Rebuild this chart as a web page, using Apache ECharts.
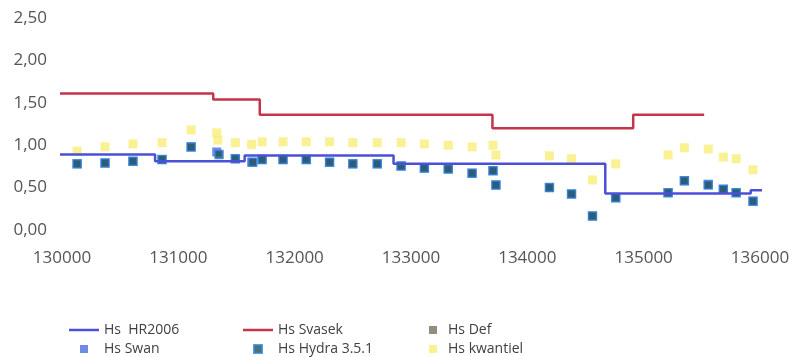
<!DOCTYPE html>
<html><head><meta charset="utf-8">
<script src="https://cdn.jsdelivr.net/npm/echarts@6/dist/echarts.min.js"></script>
<style>html,body{margin:0;padding:0;background:#fff}#c{width:798px;height:357px}</style>
</head><body><div id="c"></div>
<script>
// HR2006 step line (corner points)
const hrX = [129940, 130800, 130800, 131570, 131570, 132850, 132850, 134670, 134670, 135920, 135920, 136050];
const hrY = [0.89, 0.89, 0.81, 0.81, 0.88, 0.88, 0.78, 0.78, 0.43, 0.43, 0.47, 0.47];
// Svasek step line
const svX = [129940, 131300, 131300, 131700, 131700, 133700, 133700, 134910, 134910, 135520];
const svY = [1.61, 1.61, 1.54, 1.54, 1.36, 1.36, 1.20, 1.20, 1.36, 1.36];
// Hydra 3.5.1 points
const hyX = [130130, 130370, 130610, 130860, 131110, 131350, 131490, 131640, 131720, 131900, 132100, 132300, 132500, 132710, 132915, 133115, 133320, 133525, 133705, 133730, 134190, 134380, 134560, 134760, 135210, 135350, 135555, 135685, 135795, 135940];
const hyY = [0.78, 0.79, 0.81, 0.83, 0.98, 0.89, 0.84, 0.80, 0.83, 0.83, 0.83, 0.80, 0.78, 0.78, 0.755, 0.73, 0.72, 0.67, 0.70, 0.53, 0.50, 0.425, 0.165, 0.38, 0.44, 0.58, 0.53, 0.48, 0.44, 0.34];
// Swan points (mostly hidden beneath Hydra)
const swX = [130130, 130370, 130610, 130860, 131110, 131330, 131490, 131630, 131720, 131900, 132100, 132300, 132500, 132710, 132915, 133115, 133320, 133525, 133705, 133730, 134190, 134380, 134560, 134760, 135210, 135350, 135555, 135685, 135795, 135940];
const swY = [0.78, 0.79, 0.81, 0.83, 0.98, 0.92, 0.84, 0.80, 0.83, 0.83, 0.83, 0.80, 0.78, 0.78, 0.755, 0.73, 0.72, 0.67, 0.70, 0.53, 0.50, 0.425, 0.165, 0.38, 0.44, 0.58, 0.54, 0.48, 0.44, 0.34];
// Def points (not visible)
const defX = [];
const defY = [];
// kwantiel points
const kwX = [130130, 130370, 130610, 130860, 131110, 131330, 131340, 131490, 131630, 131720, 131900, 132100, 132300, 132500, 132710, 132915, 133115, 133320, 133525, 133705, 133730, 134190, 134380, 134560, 134760, 135210, 135350, 135555, 135685, 135795, 135940];
const kwY = [0.93, 0.98, 1.015, 1.03, 1.18, 1.145, 1.06, 1.03, 1.01, 1.04, 1.04, 1.04, 1.04, 1.03, 1.03, 1.03, 1.015, 1.0, 0.98, 1.0, 0.885, 0.875, 0.84, 0.59, 0.78, 0.885, 0.97, 0.955, 0.86, 0.84, 0.71];
const yTicks = ['0,00','0,50','1,00','1,50','2,00','2,50'];

const zip = (a, b) => a.map((v, i) => [v, b[i]]);
const LINE_ICON = 'path://M0,0h30v2.5h-30z';
const SQ_ICON = 'path://M0,0h8v8h-8z';
const legFont = {fontFamily: '"Liberation Sans Narrow", "Open Sans", sans-serif', fontSize: 14, color: '#404040', lineHeight: 14};
const legBase = {orient: 'vertical', top: 323, itemWidth: 30, itemHeight: 8, itemGap: 5, textStyle: legFont, selectedMode: false, padding: 0, symbolKeepAspect: true};

const chart = echarts.init(document.getElementById('c'), null, {renderer: 'canvas'});
chart.setOption({
  animation: false,
  backgroundColor: '#fff',
  grid: {left: 62, right: 38, top: 18, bottom: 127},
  xAxis: {
    type: 'value', min: 130000, max: 136000, interval: 1000,
    axisLine: {show: false}, axisTick: {show: false}, splitLine: {show: false},
    axisLabel: {formatter: v => String(v), margin: 20, color: '#555', fontFamily: '"Open Sans", sans-serif', fontSize: 17}
  },
  yAxis: {
    type: 'value', min: 0, max: 2.5, interval: 0.5,
    axisLine: {show: false}, axisTick: {show: false}, splitLine: {show: false},
    axisLabel: {formatter: v => yTicks[Math.round(v / 0.5)], margin: 15, color: '#555', fontFamily: '"Open Sans", sans-serif', fontSize: 17}
  },
  legend: [
    Object.assign({}, legBase, {left: 69, data: [{name: 'Hs  HR2006', icon: LINE_ICON}, {name: 'Hs Swan', icon: SQ_ICON}]}),
    Object.assign({}, legBase, {left: 243, data: [{name: 'Hs Svasek', icon: LINE_ICON}, {name: 'Hs Hydra 3.5.1', icon: SQ_ICON}]}),
    Object.assign({}, legBase, {left: 429, itemWidth: 20, data: [{name: 'Hs Def', icon: SQ_ICON}, {name: 'Hs kwantiel', icon: SQ_ICON}]})
  ],
  series: [
    {name: 'Hs  HR2006', type: 'line', data: zip(hrX, hrY), symbol: 'none', clip: false,
     lineStyle: {color: '#4c50d8', width: 2.5}, itemStyle: {color: '#4c50d8'}},
    {name: 'Hs Svasek', type: 'line', data: zip(svX, svY), symbol: 'none', clip: false,
     lineStyle: {color: '#c4354c', width: 2.5}, itemStyle: {color: '#c4354c'}},
    {name: 'Hs Def', type: 'scatter', data: zip(defX, defY), symbol: 'rect', symbolSize: 8,
     itemStyle: {color: '#77705e'}},
    {name: 'Hs Swan', type: 'scatter', data: zip(swX, swY), symbol: 'rect', symbolSize: 9,
     itemStyle: {color: '#4a6ede'}},
    {name: 'Hs Hydra 3.5.1', type: 'scatter', data: zip(hyX, hyY), symbol: 'rect', symbolSize: 8,
     itemStyle: {color: '#1d4f5c', borderColor: '#2f86d8', borderWidth: 1.5}},
    {name: 'Hs kwantiel', type: 'scatter', data: zip(kwX, kwY), symbol: 'rect', symbolSize: 9,
     itemStyle: {color: '#f7ee78'}}
  ]
});
</script></body></html>
